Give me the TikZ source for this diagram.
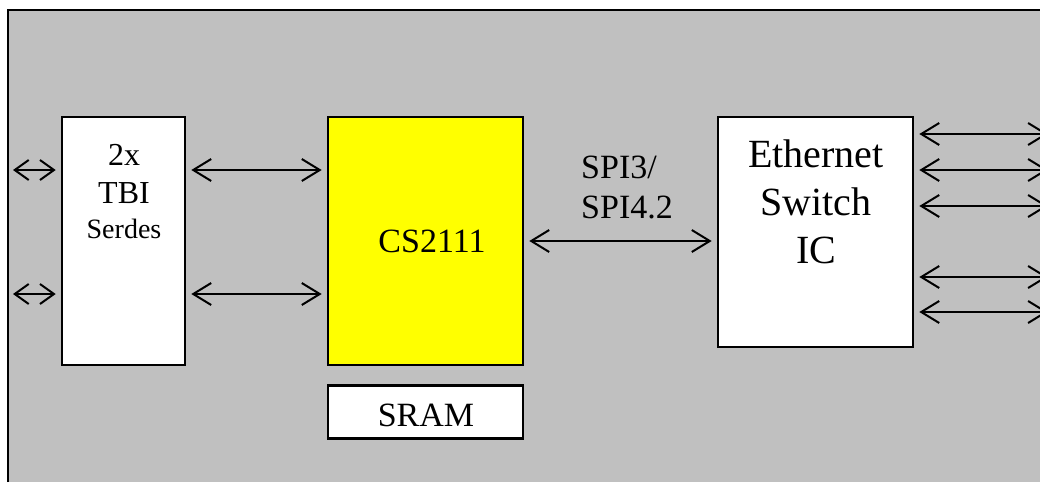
\documentclass[tikz,border=0pt]{standalone}
\usepackage{fontspec}
\setmainfont{Liberation Serif}
\usetikzlibrary{positioning,arrows.meta,calc}
\definecolor{bggray}{RGB}{192,192,192}
\definecolor{chipyellow}{RGB}{255,255,0}

\begin{document}
\begin{tikzpicture}[x=1pt,y=-1pt,
  box/.style={draw,line width=2.6pt,fill=white,inner sep=0pt},
  link/.style={<->,>={Straight Barb[length=18pt,width=22pt]},line width=2pt,shorten <=5pt,shorten >=5pt},
  short link/.style={link,>={Straight Barb[length=14pt,width=20pt]},shorten <=0pt},
  lbl/.style={align=center,inner sep=0pt}]
\useasboundingbox (0,0) rectangle (1040,482);
\fill[bggray] (8,10) rectangle (1040,482);
\draw[line width=2pt] (8,482) -- (8,10) -- (1040,10);
\node[box,minimum width=123pt,minimum height=248pt] (TBI) at (123.5,241) {};
\node[box,fill=chipyellow,minimum width=195pt,minimum height=248pt] (CS) at (425.5,241) {};
\node[box,minimum width=195pt,minimum height=53pt,below=18pt of CS] (SRAM) {};
\node[box,minimum width=195pt,minimum height=230pt] (SW) at (815.5,232) {};
\node[lbl,font=\fontsize{32}{38}\selectfont] (TBItxt) at (124,192) {2x\\TBI\\[-3pt]{\fontsize{28}{35}\selectfont Serdes}};
\node[lbl,font=\fontsize{34}{40}\selectfont] (CStxt) at (432,241.5) {CS2111};
\node[lbl,font=\fontsize{34}{40}\selectfont] (SRAMtxt) at (426,415.5) {SRAM};
\node[lbl,font=\fontsize{40}{48}\selectfont] (SWtxt) at (816,201.5) {Ethernet\\Switch\\IC};
\node[lbl,align=left,anchor=west,font=\fontsize{34}{40}\selectfont] (SPItxt) at (581,187) {SPI3/\\SPI4.2};
% line side
\coordinate (inA) at (13,170);
\coordinate (inB) at (13,294);
\draw[short link] (inA) -- (inA -| TBI.west);
\draw[short link] (inB) -- (inB -| TBI.west);
\draw[link] (TBI.east |- inA) -- (CS.west |- inA);
\draw[link] (TBI.east |- inB) -- (CS.west |- inB);
% system side
\draw[link] (CS.east) -- (CS.east -| SW.west);
\foreach \y [count=\i] in {134,170,206,277,312} {
  \coordinate (out\i) at (1048,\y);
  \draw[link,shorten >=0pt] (out\i -| SW.east) -- (out\i);
}
\end{tikzpicture}
\end{document}
